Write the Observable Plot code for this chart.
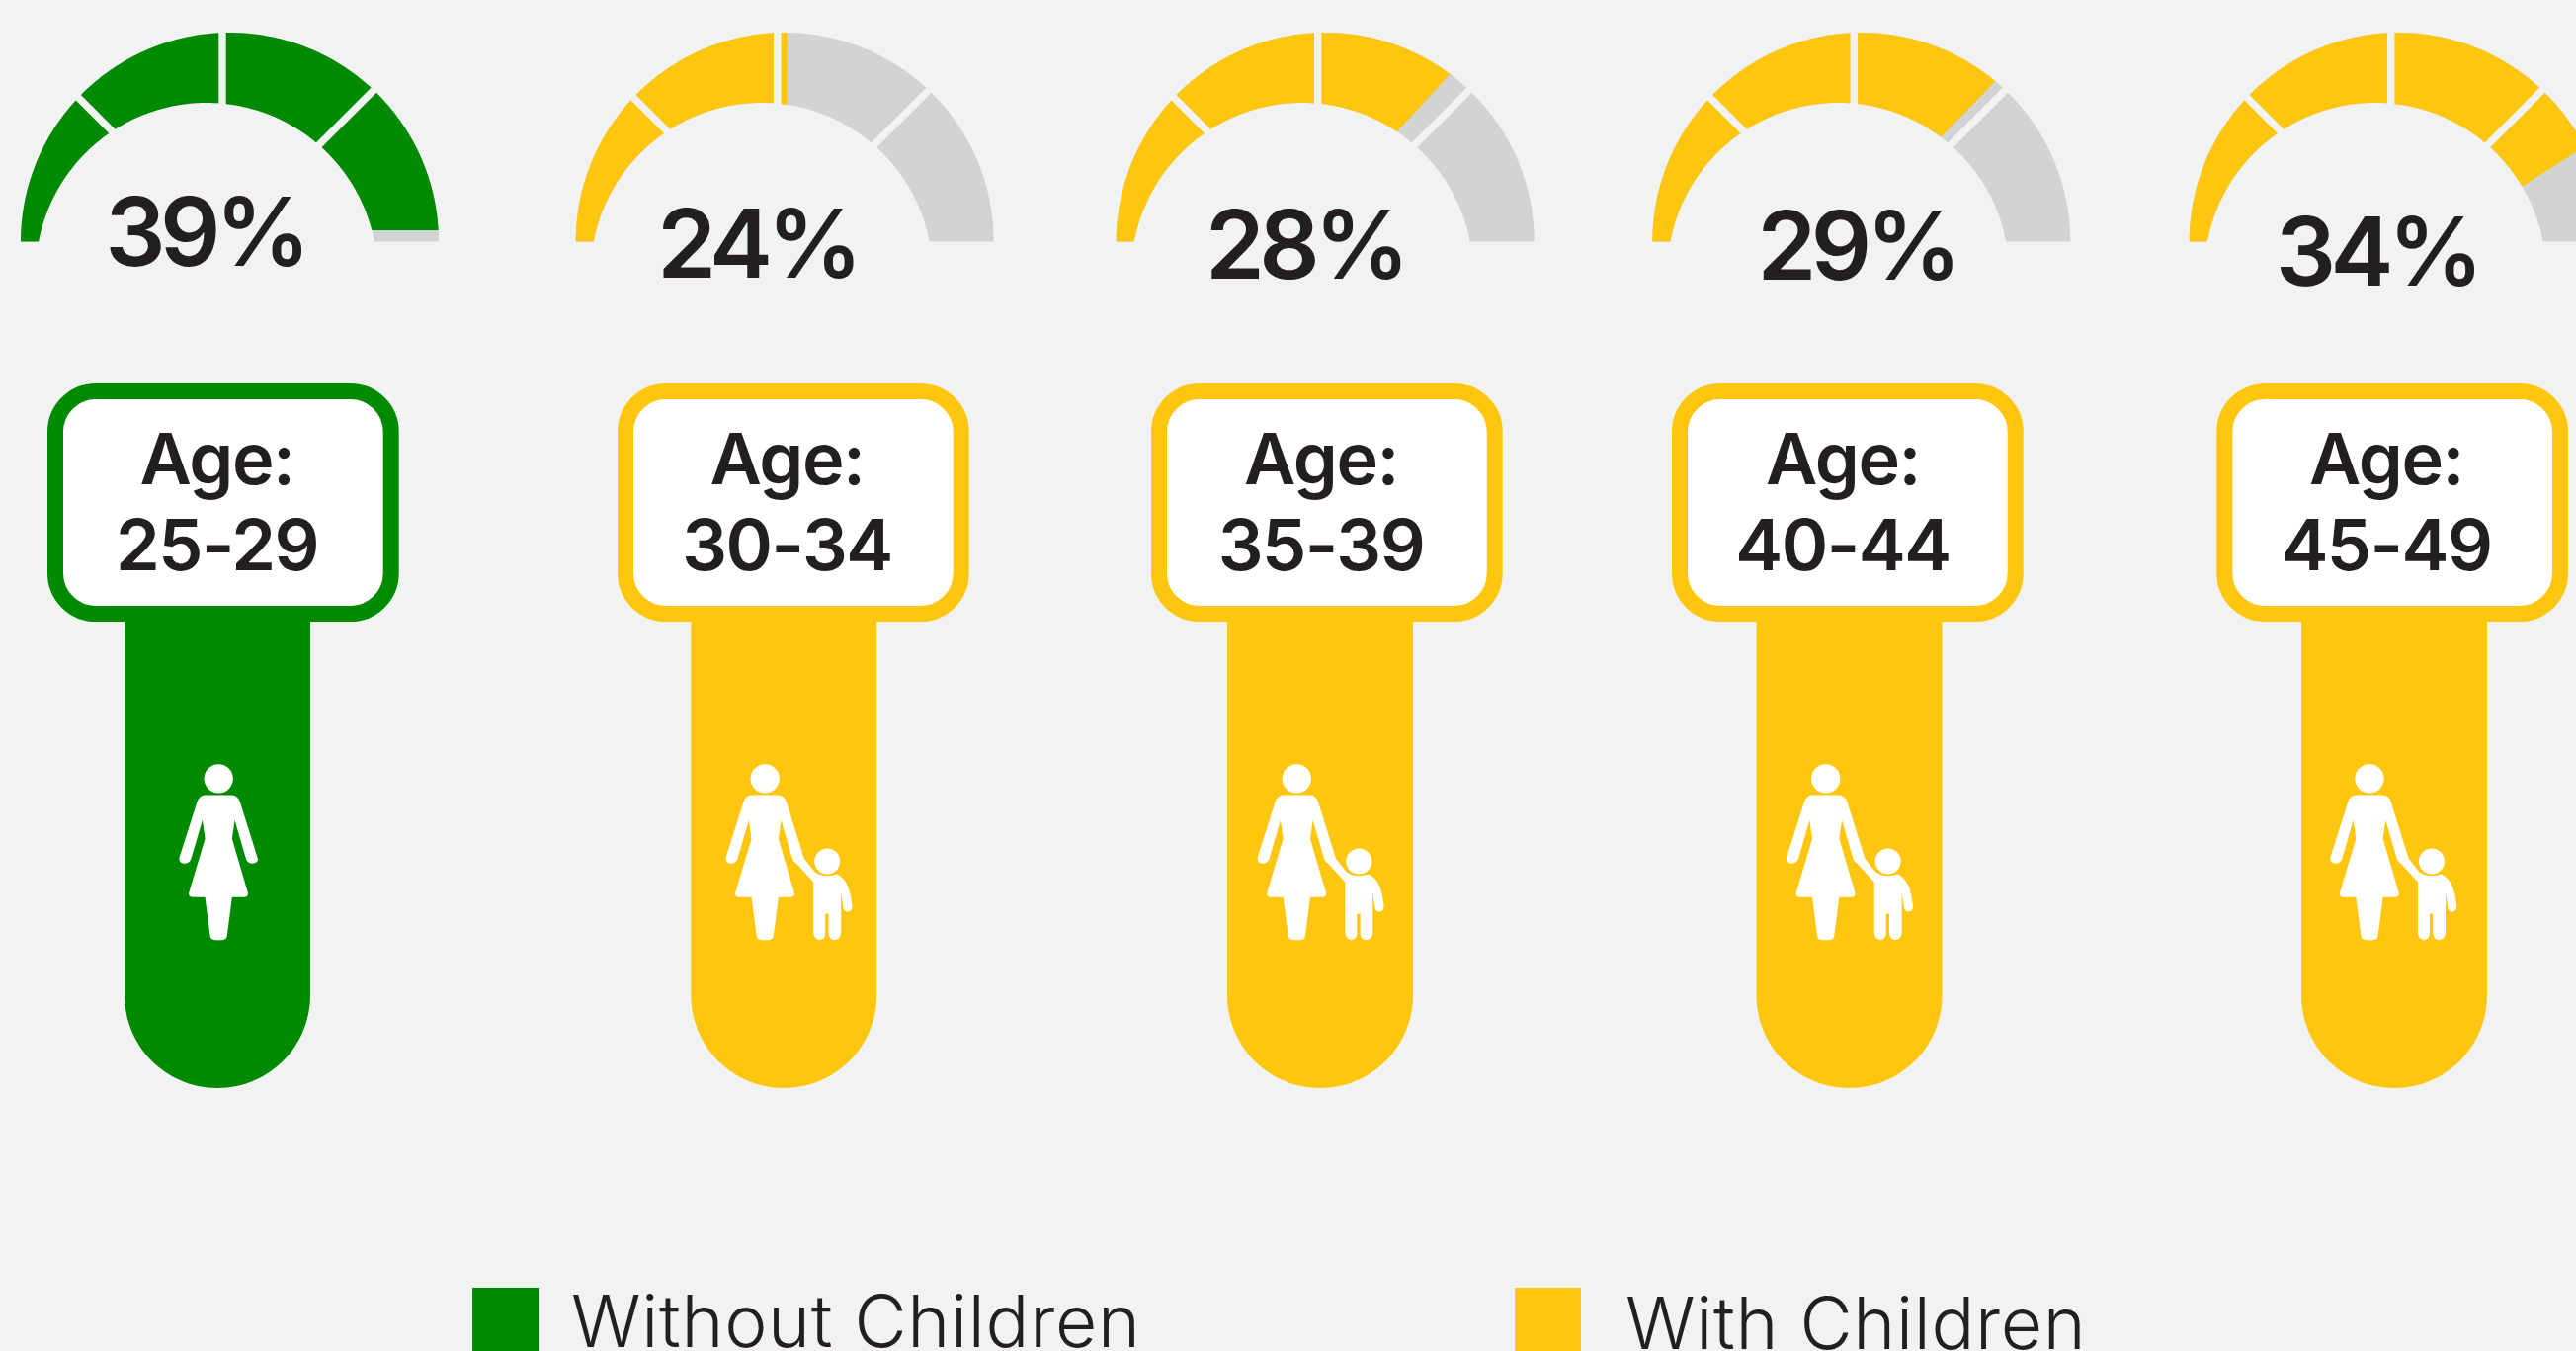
<!DOCTYPE html>
<html>
<head>
<meta charset="utf-8">
<script src="https://cdn.jsdelivr.net/npm/d3@7"></script>
<script src="https://cdn.jsdelivr.net/npm/@observablehq/plot@0.6"></script>
<style>
  html, body { margin: 0; padding: 0; background: #f1f3f2; overflow: hidden; }
  svg { display: block; }
  /* Tighter figures for the large labels, slightly open legend text */
  g[font-size="96"] { letter-spacing: -5.5px; }
  g[font-size="72"] { letter-spacing: -1.5px; }
  g[font-size="73"] { letter-spacing: 0.7px; }
</style>
</head>
<body>
<div id="chart"></div>
<script>
// Share of women at each age, by whether they have children
const ageGroups = ["25-29", "30-34", "35-39", "40-44", "45-49"];
const percents = [39, 24, 28, 29, 34];
const categories = ["Without Children", "With Children", "With Children", "With Children", "With Children"];
const legendLabels = ["Without Children", "With Children"];

// Where the fill of a gauge ends, in degrees swept from the left, for each stated percent
const sweepPercents = [24, 28, 29, 34, 39];
const outerSweeps = [90.7, 126.7, 129.9, 153, 176.9];
const innerSweeps = [98.6, 123.8, 126.9, 149.3, 165.3];

// Page layout
const W = 2607, H = 1367;
const BG = "#f1f3f2", GREY = "#d1d3d4", INK = "#231f20";
const FONT = "Inter, 'Liberation Sans', sans-serif";
const gaugeLeft = [21, 582.7, 1129.7, 1672.3, 2215.7];
const stemCenter = [220, 793.3, 1336, 1871.5, 2423];
const boxLeft = [48, 625, 1165, 1692, 2243.3];
const labelCenter = [219.5, 796.5, 1337, 1865, 2415];
const pctCenter = [207.7, 766.3, 1320.5, 1879, 2405.5];
const pctBaseline = [268.7, 280.7, 281.7, 283.3, 289];
const womanCenter = [220.7, 773.7, 1311.8, 1847.2, 2397.5];
const BOX_W = 355.7, BOX_TOP = 388, BOX_BOTTOM = 629, BOX_STROKE = 16;
const STEM_R = 94, STEM_BOTTOM = 1101;
const legendSwatch = [478, 1533], legendText = [578, 1645], legendBaseline = [1363, 1365];

// Gauge band: outer and inner edges are two offset circles, cut off at a flat base
const BASE_Y = 244.5, OUTER_R = 211.5, OUTER_DX = 211.5;
const INNER_R = 173, INNER_DX = 188, INNER_CY = 277, PIVOT_DX = 204;
const INNER_START = Math.asin((INNER_CY - BASE_Y) / INNER_R) * 180 / Math.PI;

const rad = (d) => d * Math.PI / 180;
const outerPoint = (left, sweep) => [
  left + OUTER_DX - OUTER_R * Math.cos(rad(sweep)),
  BASE_Y - OUTER_R * Math.sin(rad(sweep))
];
const innerPoint = (left, sweep) => [
  left + INNER_DX - INNER_R * Math.cos(rad(sweep)),
  INNER_CY - INNER_R * Math.sin(rad(sweep))
];

// Closed outline of the band between the left end and the given sweeps
function bandOutline(id, category, left, outerEnd, innerEnd) {
  const rows = [];
  for (const s of d3.range(0, outerEnd, 1).concat(outerEnd)) {
    const [x, y] = outerPoint(left, s);
    rows.push({id, category, x, y});
  }
  for (const s of d3.range(innerEnd, INNER_START, -1).concat(INNER_START)) {
    const [x, y] = innerPoint(left, s);
    rows.push({id, category, x, y});
  }
  return rows;
}

// Stem outline: straight sides closed by a half circle at the foot
function stemOutline(id, category, center) {
  const rows = [
    {id, category, x: center - STEM_R, y: BOX_BOTTOM - BOX_STROKE},
    {id, category, x: center + STEM_R, y: BOX_BOTTOM - BOX_STROKE}
  ];
  for (const s of d3.range(0, 181, 3)) {
    rows.push({
      id, category,
      x: center + STEM_R * Math.cos(rad(s)),
      y: STEM_BOTTOM - STEM_R + STEM_R * Math.sin(rad(s))
    });
  }
  return rows;
}

const outerSweep = d3.scaleLinear().domain(sweepPercents).range(outerSweeps);
const innerSweep = d3.scaleLinear().domain(sweepPercents).range(innerSweeps);

const trackRows = ageGroups.flatMap((age, i) =>
  bandOutline(`track ${age}`, null, gaugeLeft[i], 180, 180 - INNER_START));
const fillRows = ageGroups.flatMap((age, i) =>
  bandOutline(`fill ${age}`, categories[i], gaugeLeft[i], outerSweep(percents[i]), innerSweep(percents[i])));
const stemRows = ageGroups.flatMap((age, i) => stemOutline(`stem ${age}`, categories[i], stemCenter[i]));

// Thin slits that divide every band into four segments, radiating from one pivot
const slitRows = gaugeLeft.flatMap((left) => [45, 90, 135].map((deg) => ({
  x1: left + PIVOT_DX - 90 * Math.cos(rad(deg)),
  y1: BASE_Y - 90 * Math.sin(rad(deg)),
  x2: left + PIVOT_DX - 250 * Math.cos(rad(deg)),
  y2: BASE_Y - 250 * Math.sin(rad(deg))
})));

const rows = ageGroups.map((age, i) => ({
  age,
  category: categories[i],
  pct: `${percents[i]}%`,
  boxX1: boxLeft[i] + BOX_STROKE / 2,
  boxX2: boxLeft[i] + BOX_W - BOX_STROKE / 2,
  labelX: labelCenter[i],
  pctX: pctCenter[i],
  pctY: pctBaseline[i],
  iconX: womanCenter[i] + 23
}));

// Pictograms, white on the stem, one with a child holding her hand
const HEAD = `<circle cx="521" cy="142" r="44"/>`;
const WOMAN = `<path d="M480 192H560Q580 192 587 215L640 385Q642 398 622 400Q608 398 604 385L570 268L562 325L610 488Q612 502 598 502H562L547 618Q545 632 532 632H510Q497 632 495 618L480 502H444Q428 502 431 488L480 325L472 268L438 385Q432 400 418 400Q400 398 402 382L455 215Q462 192 480 192Z"/>`;
const CHILD = `<circle cx="710" cy="393" r="39"/><path d="M640 385L672 425Q700 445 740 432Q765 445 775 475Q783 500 786 530Q784 546 772 546Q760 546 758 530L752 486V610Q750 632 732 632Q715 630 714 612V552H704V612Q703 630 686 632Q670 630 668 610V456L615 398Q600 385 620 380Z"/>`;
const iconUri = (shapes) => "data:image/svg+xml," + encodeURIComponent(
  `<svg xmlns="http://www.w3.org/2000/svg" viewBox="380 90 420 550" fill="#fff">${shapes}</svg>`);
const womanIcon = iconUri(HEAD + WOMAN);
const familyIcon = iconUri(HEAD + WOMAN + CHILD);

const legendRows = legendLabels.map((label, i) => ({
  label, swatch: legendSwatch[i], text: legendText[i], baseline: legendBaseline[i]
}));

const chart = Plot.plot({
  width: W,
  height: H,
  margin: 0,
  style: {background: BG, maxWidth: "none"},
  x: {type: "linear", domain: [0, W], range: [0, W], axis: null},
  y: {type: "linear", domain: [0, H], range: [0, H], axis: null},
  color: {domain: legendLabels, range: ["#008a00", "#ffc610"]},
  marks: [
    // Gauges
    Plot.line(trackRows, {x: "x", y: "y", z: "id", fill: GREY, stroke: "none", dx: -0.5, dy: -0.5}),
    Plot.line(fillRows, {x: "x", y: "y", z: "id", fill: "category", stroke: "none", dx: -0.5, dy: -0.5}),
    Plot.link(slitRows, {x1: "x1", y1: "y1", x2: "x2", y2: "y2", stroke: BG, strokeWidth: 7.4, dx: -0.5, dy: -0.5}),
    Plot.text(rows, {x: "pctX", y: "pctY", text: "pct", fontFamily: FONT, fontWeight: 600, fontSize: 96,
      textAnchor: "middle", lineAnchor: "bottom", fill: INK, dx: -0.5, dy: -0.5}),

    // Stems with a round foot
    Plot.line(stemRows, {x: "x", y: "y", z: "id", fill: "category", stroke: "none", dx: -0.5, dy: -0.5}),

    // Age boxes
    Plot.rect(rows, {x1: "boxX1", x2: "boxX2", y1: BOX_TOP + BOX_STROKE / 2, y2: BOX_BOTTOM - BOX_STROKE / 2,
      rx: 41, ry: 41, fill: "white", stroke: "category", strokeWidth: BOX_STROKE}),
    Plot.text(rows, {x: "labelX", y: 490, text: () => "Age:", fontFamily: FONT, fontWeight: 600, fontSize: 72,
      textAnchor: "middle", lineAnchor: "bottom", fill: INK, dx: -0.5, dy: -0.5}),
    Plot.text(rows, {x: "labelX", y: 576.7, text: "age", fontFamily: FONT, fontWeight: 600, fontSize: 72,
      textAnchor: "middle", lineAnchor: "bottom", fill: INK, dx: -0.5, dy: -0.5}),

    // Pictograms
    Plot.image(rows, {x: "iconX", y: 861.7, width: 140, height: 183.33,
      src: (d) => d.category === "With Children" ? familyIcon : womanIcon}),

    // Legend
    Plot.rect(legendRows, {x1: "swatch", x2: (d) => d.swatch + 67, y1: 1303, y2: H, fill: "label"}),
    Plot.text(legendRows, {x: "text", y: "baseline", text: "label", fontFamily: FONT, fontWeight: 300, fontSize: 73,
      textAnchor: "start", lineAnchor: "bottom", fill: INK, dx: -0.5, dy: -0.5})
  ]
});
document.getElementById("chart").append(chart);
</script>
</body>
</html>
